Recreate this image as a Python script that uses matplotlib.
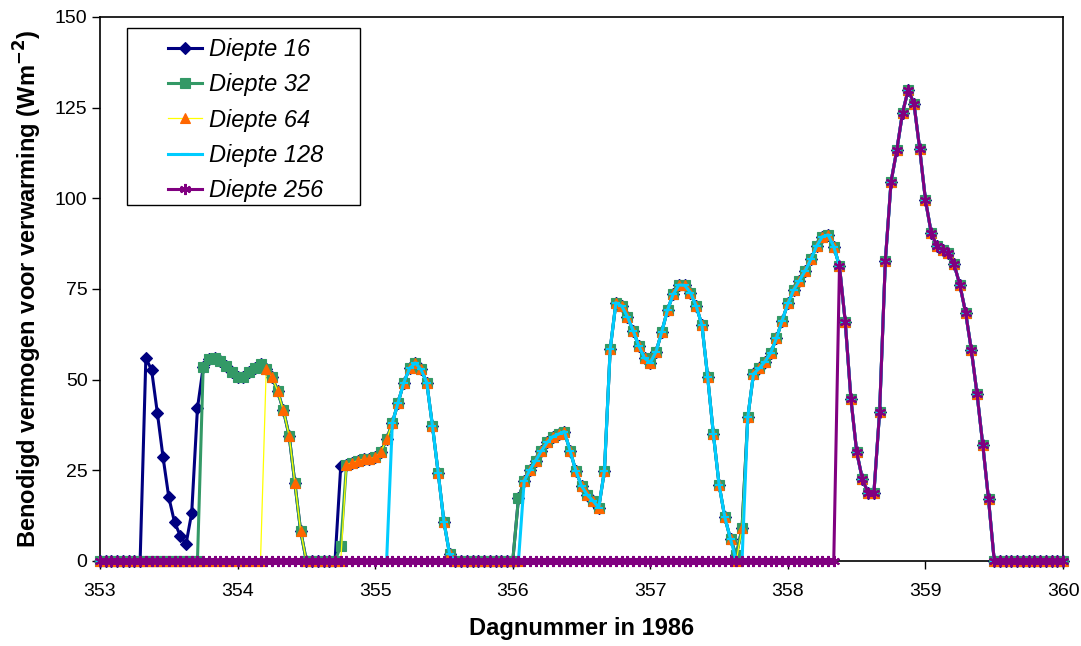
import numpy as np
import matplotlib
matplotlib.use('Agg')
import matplotlib.pyplot as plt
from matplotlib.patches import Rectangle

plt.rcParams['font.family'] = ['Liberation Sans', 'DejaVu Sans']

# uurwaarden van dag 353 t/m 360 (1986)
dag_start = 353
uren = np.arange(169)

# gemeenschappelijk verloop van het benodigd vermogen (W/m2), per uur
vermogen = [
    0, 0, 0, 0, 0, 0, 0, 0,
    55.9, 52.7, 40.9, 28.6, 17.6, 10.7, 7.0, 4.6, 13.3, 42.1,
    53.4, 55.6, 56.0, 55.2, 53.8, 52.0, 50.6, 50.6, 52.0, 53.2, 54.2, 53.0,
    50.8, 46.8, 41.5, 34.5, 21.5, 8.3,
    0, 0, 0, 0, 0, 0,
    26.2, 26.6, 27.1, 27.7, 28.1, 28.2, 28.6, 30.1, 33.5, 38.1, 43.6, 49.2,
    53.1, 54.6, 52.8, 49.2, 37.2, 24.2, 10.8, 1.8,
    0, 0, 0, 0, 0, 0, 0, 0, 0, 0, 0,
    17.3, 22.1, 25.1, 27.7, 30.4, 32.7, 34.3, 35.0, 35.7, 30.4, 24.9, 20.7,
    18.2, 16.6, 14.7, 24.9, 58.4, 71.2, 70.3, 67.4, 63.5, 59.3, 55.9, 54.7,
    57.7, 63.2, 69.2, 73.6, 76.1, 76.0, 74.0, 70.3, 65.1, 50.8, 35.0, 21.0,
    12.0, 6.0, 1.6, 9.0, 39.6, 51.6, 53.1, 55.0, 57.4, 61.4, 66.3, 71.0,
    74.7, 77.3, 80.0, 83.2, 86.8, 89.4, 89.9, 86.7, 81.3, 66.0, 44.6, 30.1,
    22.5, 18.8, 18.7, 41.2, 82.8, 104.6, 113.3, 123.6, 130.0, 126.0, 113.5, 99.5,
    90.5, 86.8, 85.7, 84.8, 81.8, 76.1, 68.5, 58.2, 46.0, 32.0, 17.0,
    0, 0, 0, 0, 0, 0, 0, 0, 0, 0, 0, 0, 0,
]

dieptes = [16, 32, 64, 128, 256]
# eerste uur waarop verwarming nodig is per diepte
start_uur = [0, 18, 29, 51, 129]
# afwijkende uurwaarden per diepte
afwijkingen = [
    {},
    {42: 4.2},
    {42: 0, 73: 0, 111: 0},
    {73: 0, 111: 0, 112: 0},
    {},
]

kleuren = ['#000080', '#339966', '#FFFF00', '#00CCFF', '#800080']
marker_kleuren = ['#000080', '#339966', '#FF6600', '#00CCFF', '#800080']
markers = ['D', 's', '^', '_', (6, 2, 0)]
marker_groottes = [6, 6.5, 7.5, 6, 8]
lijndiktes = [2.2, 2.2, 0.9, 2.2, 2.2]

x = dag_start + uren / 24.0

fig = plt.figure(figsize=(10.81, 6.46), dpi=100)
ax = fig.add_axes([0.0925, 0.1316, 0.8909, 0.8421])

for k, d in enumerate(dieptes):
    y = np.array(vermogen, dtype=float)
    y[:start_uur[k]] = 0
    for uur, waarde in afwijkingen[k].items():
        y[uur] = waarde
    ax.plot(x, y, color=kleuren[k], lw=lijndiktes[k], marker=markers[k],
            ms=marker_groottes[k], mfc=marker_kleuren[k], mec=marker_kleuren[k],
            mew=1.5 if k in (3, 4) else 0.8, clip_on=False,
            label='Diepte %d' % d, zorder=3 + k)

ax.set_xlim(353, 360)
ax.set_ylim(0, 150)
ax.set_xticks(range(353, 361))
ax.set_yticks(range(0, 151, 25))
ax.tick_params(direction='out', length=6, width=1, labelsize=14, colors='black')
ax.tick_params(axis='x', pad=10)
ax.tick_params(axis='y', pad=3)
for s in ax.spines.values():
    s.set_color('black')
    s.set_linewidth(1.2)

ax.set_xlabel('Dagnummer in 1986', fontsize=17, fontweight='bold', labelpad=12)
ax.set_ylabel('Benodigd vermogen voor verwarming (Wm$^{\\mathbf{-2}}$)',
              fontsize=17, fontweight='bold', labelpad=8)

# legendakader
ax.add_patch(Rectangle((0.028, 0.654), 0.242, 0.326, transform=ax.transAxes,
                       facecolor='white', edgecolor='black', lw=1.0,
                       clip_on=False, zorder=15))
leg = ax.legend(loc='upper left', bbox_to_anchor=(0.0706, 0.961), borderaxespad=0,
                frameon=False, prop={'style': 'italic', 'size': 17},
                handlelength=1.45, labelspacing=0.52, borderpad=0,
                handletextpad=0.3)
leg.set_zorder(20)

plt.savefig('out.png', dpi=100)
